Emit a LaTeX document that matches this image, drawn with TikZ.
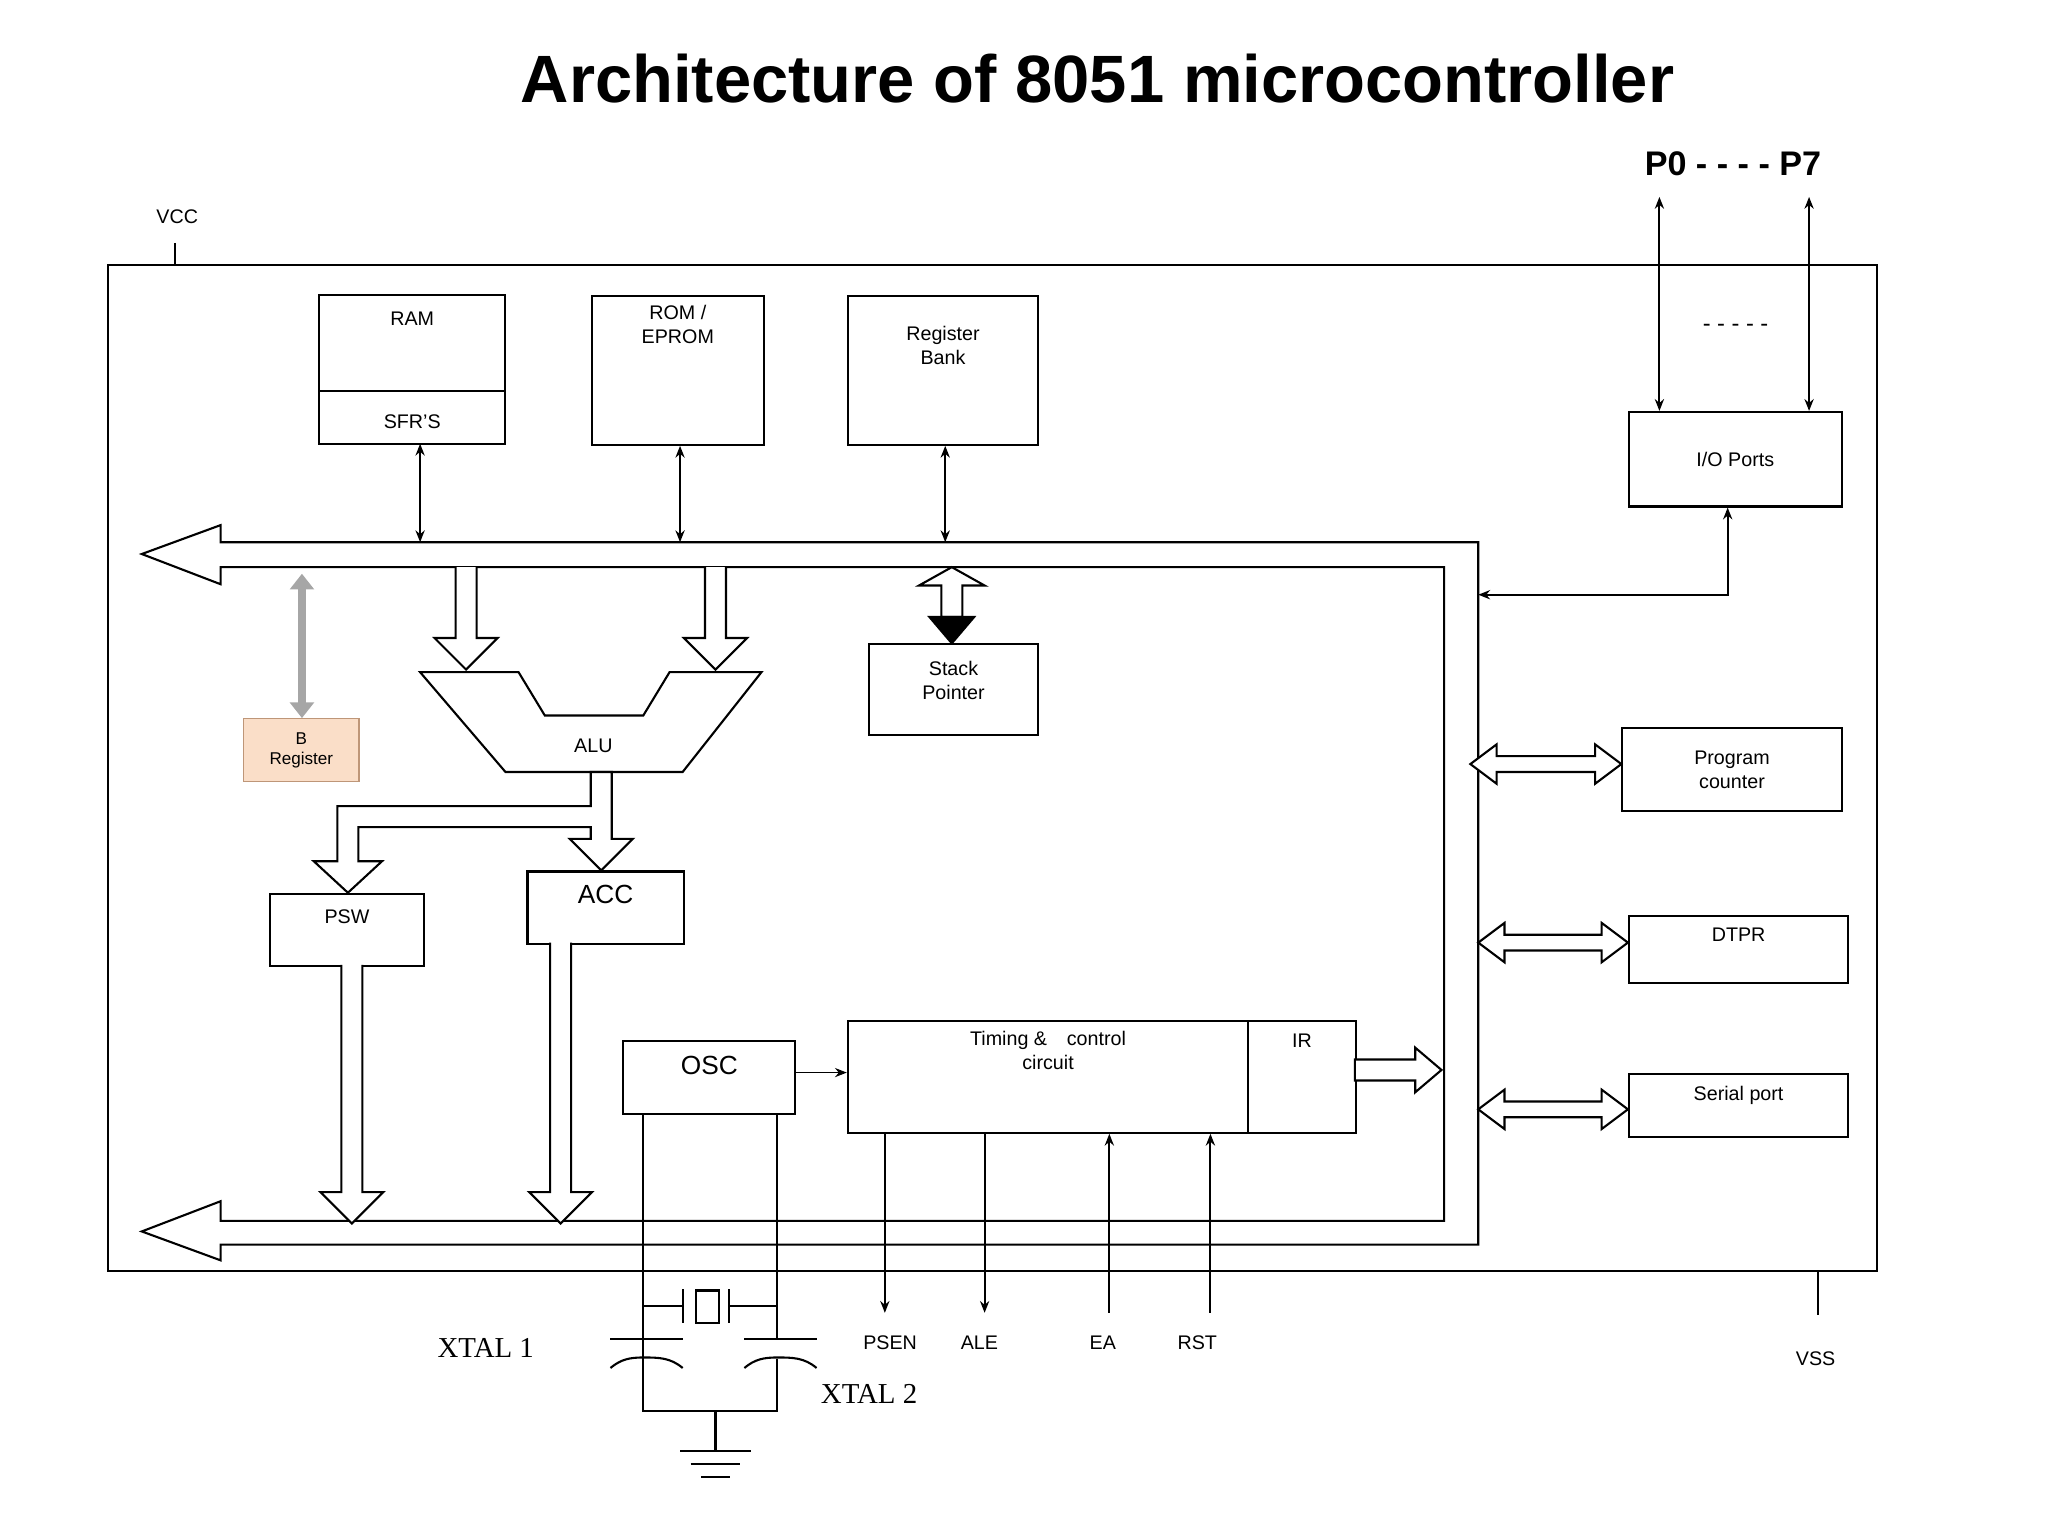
\documentclass[tikz,border=0pt]{standalone}
\usepackage{fontspec}
\setmainfont{Liberation Sans}
\newfontfamily\xtalfont{Liberation Serif}
\usetikzlibrary{arrows.meta}
\definecolor{bregfill}{RGB}{250,222,200}
\definecolor{bregdraw}{RGB}{190,150,120}
% hollow down arrow: x, top y, tip y
\newcommand\hdown[3]{\draw[fill=white] (#1-8,#2) -- (#1-8,#3-24) -- (#1-24,#3-24) -- (#1,#3) -- (#1+24,#3-24) -- (#1+8,#3-24) -- (#1+8,#2);}
% hollow left-right double arrow: y, left x, right x
\newcommand\hboth[3]{\draw[fill=white] (#2,#1) -- (#2+20,#1-15) -- (#2+20,#1-6) -- (#3-20,#1-6) -- (#3-20,#1-15) -- (#3,#1) -- (#3-20,#1+15) -- (#3-20,#1+6) -- (#2+20,#1+6) -- (#2+20,#1+15) -- cycle;}
\begin{document}
\begin{tikzpicture}[x=1pt,y=-1pt,line width=1.6pt,
  blk/.style={draw,line width=1.6pt,font=\fontsize{15}{18}\selectfont,align=center},
  arr/.style={-{Stealth[length=9pt,width=7pt]}},
  both/.style={{Stealth[length=9pt,width=7pt]}-{Stealth[length=9pt,width=7pt]}},
  pin/.style={font=\fontsize{15}{17}\selectfont}]
\useasboundingbox (0,0) rectangle (1560,1170);
\node[font=\bfseries\fontsize{51}{56}\selectfont] (title) at (836,60) {Architecture of 8051 microcontroller};
\node[font=\bfseries\fontsize{26}{30}\selectfont] (ports) at (1320,125) {P0 - - - - P7};
% chip outline
\draw (82,202) rectangle (1430,968);
\draw (133,185) -- (133,202);
\node[pin] (vcc) at (135,165) {VCC};
\draw (1385,968) -- (1385,1002);
\node[pin] (vss) at (1383,1035) {VSS};
% memory blocks
\draw (243,225) rectangle (385,338);
\draw (243,298) -- (385,298);
\node[blk,draw=none] (ram) at (314,243) {RAM};
\node[blk,draw=none] (sfr) at (314,321) {SFR'S};
\coordinate (ramb) at (320,338);
\node[blk,minimum width=131pt,minimum height=113pt,anchor=north west,text depth=70pt] (rom) at (450,225) {ROM /\\EPROM};
\node[blk,minimum width=145pt,minimum height=113pt,anchor=north west] (rbank) at (645,225) {Register\\Bank\\[20pt]};
\node[blk,minimum width=162pt,minimum height=72pt,anchor=north west] (io) at (1240,313) {I/O Ports};
\node[font=\fontsize{18}{20}\selectfont] (dots) at (1322,250) {- - - - -};
\coordinate (p0) at (1264,150);
\coordinate (p7) at (1378,150);
\draw[both] (p0) -- (p0 |- io.north);
\draw[both] (p7) -- (p7 |- io.north);
% internal bus
\draw[fill=white] (108,422) -- (168,400) -- (168,413) -- (1126,413) -- (1126,948) -- (168,948) -- (168,960) -- (108,938) -- (168,915) -- (168,930) -- (1100,930) -- (1100,432) -- (168,432) -- (168,445) -- cycle;
\draw[both] (ramb) -- (320,413);
\draw[both] (rom.south -| 518,0) -- (518,413);
\draw[both] (rbank.south -| 720,0) -- (720,413);
\coordinate (iobus) at (1126,453);
\draw[both] (io.south -| 1316,0) |- (iobus);
% B register
\node[blk,fill=bregfill,draw=bregdraw,line width=1pt,minimum width=88pt,minimum height=48pt,anchor=north west,font=\fontsize{13}{15}\selectfont] (breg) at (185,547) {B\\Register};
\draw[line width=6pt,gray!70,{Triangle[length=12pt,width=18pt]}-{Triangle[length=12pt,width=18pt]}] (230,437) -- (breg.north -| 230,0);
% ALU
\hdown{355}{432}{510}
\hdown{545}{432}{510}
\draw[fill=white] (320,512) -- (395,512) -- (415,545) -- (490,545) -- (510,512) -- (580,512) -- (520,588) -- (385,588) -- cycle;
\node[blk,draw=none] (alu) at (452,568) {ALU};
\node[blk,minimum width=117pt,minimum height=55pt,anchor=north west,text depth=20pt] (psw) at (205,680) {PSW};
\node[blk,minimum width=119pt,minimum height=55pt,anchor=north west,font=\fontsize{20}{22}\selectfont,text depth=20pt] (acc) at (401,663) {ACC};
\draw[fill=white] (450,588) -- (466,588) -- (466,639) -- (482,639) -- (458,663) -- (434,639) -- (450,639) -- (450,630) -- (273,630) -- (273,656) -- (291,656) -- (265,680) -- (239,656) -- (257,656) -- (257,614) -- (450,614) -- cycle;
\hdown{268}{735}{932}
\hdown{427}{718}{932}
% stack pointer
\node[blk,minimum width=129pt,minimum height=69pt,anchor=north west,text depth=14pt] (sp) at (661,490) {Stack\\Pointer};
\draw[fill=white] (725,432) -- (750,446) -- (733,446) -- (733,470) -- (717,470) -- (717,446) -- (700,446) -- cycle;
\draw[fill=black] (717,470) -- (733,470) -- (742,470) -- (725,490) -- (708,470) -- cycle;
% side peripherals
\node[blk,minimum width=167pt,minimum height=63pt,anchor=north west] (pc) at (1235,554) {Program\\counter};
\node[blk,minimum width=167pt,minimum height=51pt,anchor=north west,text depth=22pt] (dptr) at (1240,697) {DTPR};
\node[blk,minimum width=167pt,minimum height=48pt,anchor=north west,text depth=18pt] (serial) at (1240,817) {Serial port};
\hboth{582}{1120}{1235}
\hboth{718}{1126}{1240}
\hboth{845}{1126}{1240}
% timing
\node[blk,minimum width=131pt,minimum height=56pt,anchor=north west,font=\fontsize{20}{22}\selectfont,text depth=18pt] (osc) at (474,792) {OSC};
\node[blk,minimum width=305pt,minimum height=85pt,anchor=north west,text depth=40pt] (tcc) at (645,777) {Timing \&\quad control\\circuit};
\node[blk,minimum width=82pt,minimum height=85pt,anchor=north west,text depth=55pt] (ir) at (950,777) {IR};
\draw[arr,line width=1.2pt] (osc.east |- 0,817) -- (tcc.west |- 0,817);
\draw[fill=white] (1032,807) -- (1078,807) -- (1078,798) -- (1098,815) -- (1078,832) -- (1078,823) -- (1032,823) -- cycle;
\coordinate (psen) at (674,1000);
\coordinate (ale) at (750,1000);
\coordinate (ea) at (845,1000);
\coordinate (rst) at (922,1000);
\draw[arr] (psen |- tcc.south) -- (psen);
\draw[arr] (ale |- tcc.south) -- (ale);
\draw[arr] (ea) -- (ea |- tcc.south);
\draw[arr] (rst) -- (rst |- tcc.south);
\node[pin] (psenl) at (678,1023) {PSEN};
\node[pin] (alel) at (746,1023) {ALE};
\node[pin] (eal) at (840,1023) {EA};
\node[pin] (rstl) at (912,1023) {RST};
% crystal
\coordinate (x1) at (490,848);
\coordinate (x2) at (592,848);
\draw (x1) -- (490,1075) -- (592,1075) -- (592,1035);
\draw (x2) -- (592,1020);
\draw (490,995) -- (520,995) (520,982) -- (520,1008) (555,982) -- (555,1008) (555,995) -- (592,995);
\draw (530,983) rectangle (548,1008);
\draw (465,1020) -- (520,1020);
\draw (465,1042) to[out=40,in=180] (490,1034) to[out=0,in=140] (520,1042);
\draw (567,1020) -- (622,1020);
\draw (567,1042) to[out=40,in=180] (592,1034) to[out=0,in=140] (622,1042);
\draw (545,1075) -- (545,1105);
\draw (518,1105) -- (572,1105) (526,1115) -- (564,1115) (534,1125) -- (556,1125);
\node[font=\xtalfont\fontsize{22}{24}\selectfont] (xt1) at (370,1027) {XTAL 1};
\node[font=\xtalfont\fontsize{22}{24}\selectfont] (xt2) at (662,1062) {XTAL 2};
\end{tikzpicture}
\end{document}
